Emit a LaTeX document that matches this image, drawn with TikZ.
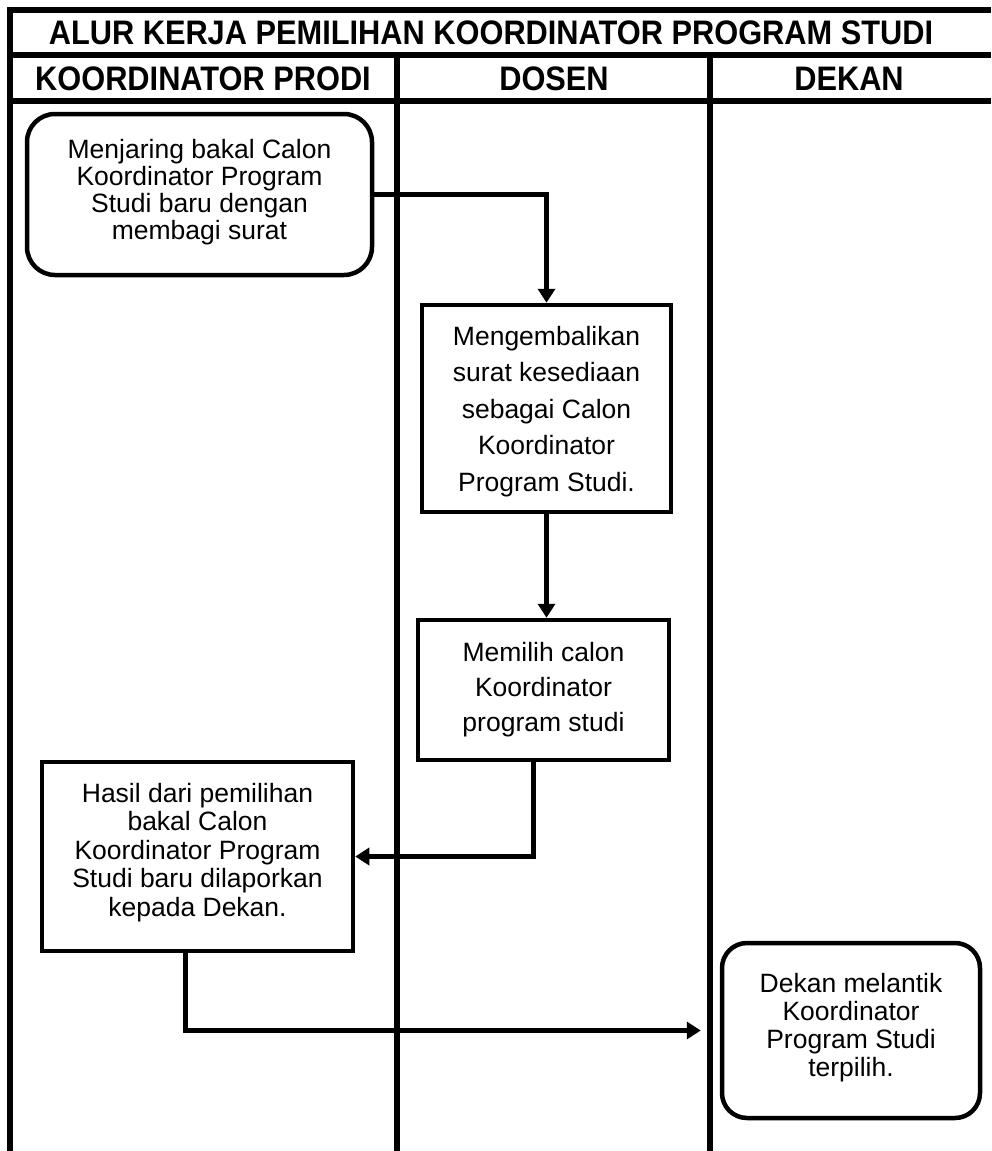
\documentclass[tikz,border=0pt]{standalone}
\usepackage{fontspec}
\setmainfont{Liberation Sans}
\newfontfamily\bodyfont{Liberation Sans}
\newfontfamily\headfont[FakeStretch=0.905]{Liberation Sans}
\usetikzlibrary{arrows.meta}
\newcommand{\flowtext}[5]{\parbox[c][#2][t]{#1}{\centering\bodyfont\fontsize{26.5pt}{#4}\selectfont\rule{0pt}{#3}#5}}
\tikzset{
  lane/.style={line width=5.5pt},
  hline/.style={line width=6pt},
  flowbox/.style={draw, line width=4.5pt, fill=white, inner sep=0pt},
  roundbox/.style={flowbox, rounded corners=28pt},
  conn/.style={line width=5pt, -{Triangle[length=14pt,width=17pt]}},
  headtxt/.style={font=\headfont\bfseries\fontsize{34pt}{37pt}\selectfont, inner sep=0pt}
}
\begin{document}
\begin{tikzpicture}[x=1pt,y=-1pt]
\useasboundingbox (0,0) rectangle (991,1151);
% frame and lanes
\draw[hline] (10,10) -- (991,10);
\draw[hline] (10,55) -- (991,55);
\draw[hline] (10,101) -- (991,101);
\draw[lane] (10,7) -- (10,1151);
\draw[lane] (397,55) -- (397,1151);
\draw[lane] (710,55) -- (710,1151);
% headers
\node[headtxt] (title) at (491,33) {ALUR KERJA PEMILIHAN KOORDINATOR PROGRAM STUDI};
\node[headtxt] (h1) at (203,79) {KOORDINATOR PRODI};
\node[headtxt] (h2) at (554,79) {DOSEN};
\node[headtxt] (h3) at (849,79) {DEKAN};
% boxes
\node[roundbox] (b1) at (199.5,194.5) {\flowtext{345pt}{161pt}{44pt}{27pt}{Menjaring bakal Calon\\Koordinator Program\\Studi baru dengan\\membagi surat}};
\node[flowbox] (b2) at (546.5,408.5) {\flowtext{249pt}{207pt}{40pt}{36.5pt}{Mengembalikan\\surat kesediaan\\sebagai Calon\\Koordinator\\Program Studi.}};
\node[flowbox] (b3) at (543.5,690) {\flowtext{251pt}{140pt}{41pt}{35pt}{Memilih calon\\Koordinator\\program studi}};
\node[flowbox] (b4) at (197.5,856.5) {\flowtext{311pt}{189pt}{40pt}{28.5pt}{Hasil dari pemilihan\\bakal Calon\\Koordinator Program\\Studi baru dilaporkan\\kepada Dekan.}};
\node[roundbox, rounded corners=25pt] (b5) at (851,1030.5) {\flowtext{258pt}{175pt}{49pt}{28pt}{Dekan melantik\\Koordinator\\Program Studi\\terpilih.}};
\coordinate (e5) at ([xshift=-19pt]b5.west);
% connectors
\draw[conn] (b1.east) -| (b2.north);
\draw[conn] (b2.south) -- (b2.south |- b3.north);
\draw[conn] ([xshift=-10pt]b3.south) |- (b4.east);
\draw[conn] ([xshift=-12pt]b4.south) |- (e5);
\end{tikzpicture}
\end{document}
